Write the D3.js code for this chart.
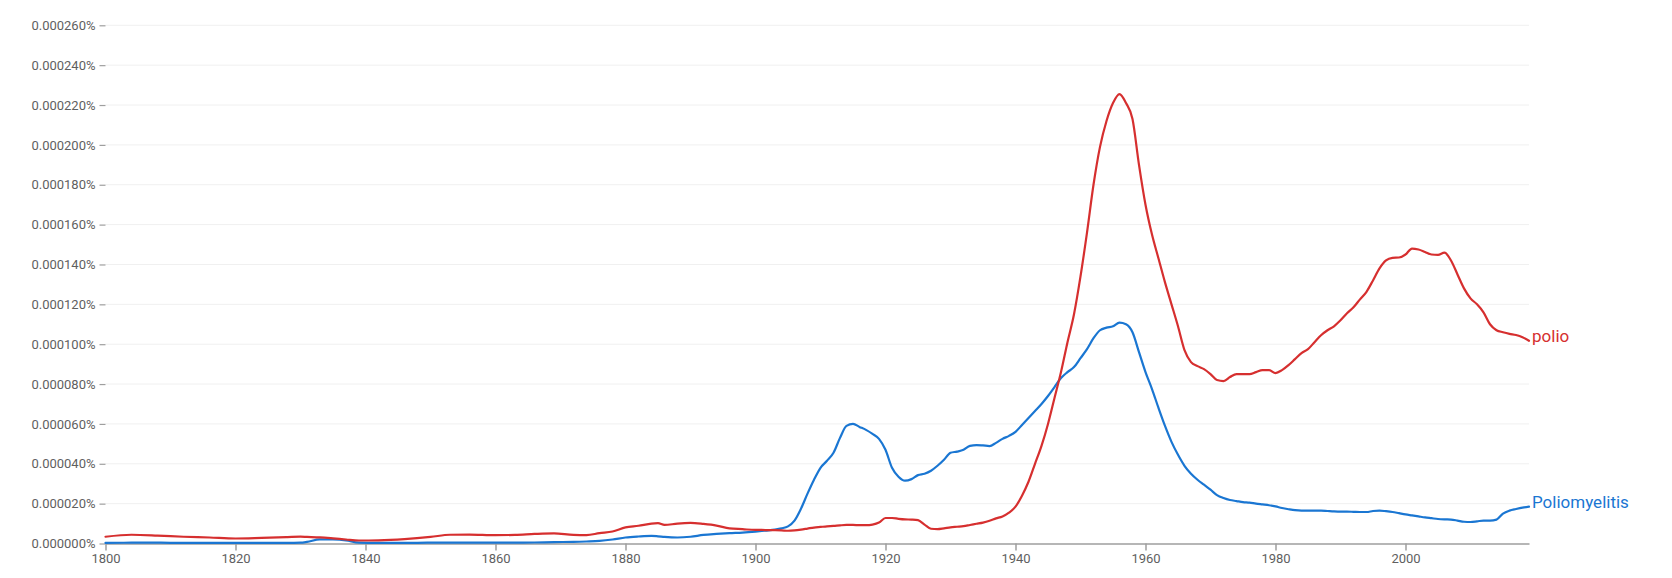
<!DOCTYPE html>
<html>
<head>
<meta charset="utf-8">
<script src="https://cdn.jsdelivr.net/npm/d3@7"></script>
<style>
  html, body { margin: 0; padding: 0; background: #fff; }
  svg { display: block; font-family: Roboto, "Noto Sans", sans-serif; }
</style>
</head>
<body>
<svg id="chart" width="1672" height="578"></svg>
<script>
// ---- data (values in units of 0.000001 %) ----
const yearsEarly = [1800, 1804, 1808, 1812, 1816, 1820, 1824, 1828, 1830, 1831, 1833, 1835, 1837, 1839, 1842, 1846, 1850, 1853, 1856, 1860, 1863, 1866, 1869, 1872, 1874, 1876, 1878, 1880, 1882, 1884, 1885, 1886, 1888, 1890, 1892, 1894, 1896, 1898];
const yearsLate = d3.range(1900, 2020);
const years = yearsEarly.concat(yearsLate);

const polioEarly = [3.4, 4.4, 4.0, 3.4, 3.0, 2.5, 2.8, 3.2, 3.4, 3.3, 3.1, 2.6, 2.0, 1.5, 1.6, 2.2, 3.3, 4.4, 4.5, 4.2, 4.3, 4.8, 5.1, 4.3, 4.2, 5.2, 6.0, 8.1, 8.9, 10.0, 10.2, 9.3, 10.0, 10.3, 9.8, 9.0, 7.6, 7.2];
const polioLate = [
  6.8, 6.8, 6.7, 6.7, 6.6, 6.4, 6.6, 7.0, 7.5, 8.0,          // 1900-1909
  8.3, 8.6, 8.8, 9.1, 9.3, 9.3, 9.2, 9.2, 9.5, 10.5,         // 1910-1919
  12.8, 12.8, 12.4, 12.1, 12.0, 11.7, 9.5, 7.4, 7.2, 7.6,    // 1920-1929
  8.1, 8.4, 8.7, 9.3, 9.9, 10.5, 11.4, 12.6, 13.6, 15.5,     // 1930-1939
  18.5, 24, 31, 40, 49, 60, 73, 86, 101, 115,                // 1940-1949
  134, 156, 180, 199, 212, 221, 225.5, 221, 213, 190,        // 1950-1959
  170, 155, 143, 131, 120, 109, 97, 91, 89, 87.5,            // 1960-1969
  85, 82, 81.5, 83.5, 85, 85, 85, 86, 87, 87,                // 1970-1979
  85.5, 87, 89.5, 92.5, 95.5, 97.5, 101, 104.5, 107, 109,    // 1980-1989
  112, 115.5, 118.5, 122.5, 126.3, 132, 138, 142, 143.3, 143.5, // 1990-1999
  145, 148, 147.5, 146.3, 145, 144.8, 145.9, 142, 135, 128,  // 2000-2009
  123, 120, 116, 110, 107, 106, 105.2, 104.6, 103.5, 101.7   // 2010-2019
];
const polioValues = polioEarly.concat(polioLate);

const poliomyelitisEarly = [0.3, 0.4, 0.4, 0.3, 0.3, 0.3, 0.3, 0.3, 0.4, 0.8, 2.1, 2.0, 1.5, 0.4, 0.3, 0.3, 0.4, 0.4, 0.4, 0.4, 0.4, 0.5, 0.7, 0.8, 1.0, 1.3, 2.0, 3.0, 3.5, 3.8, 3.6, 3.3, 3.0, 3.4, 4.3, 4.8, 5.2, 5.5];
const poliomyelitisLate = [
  6.0, 6.3, 6.6, 7.0, 7.6, 8.6, 11.5, 17.5, 25, 32,          // 1900-1909
  38, 41.5, 45.5, 53, 59, 60, 58.5, 57, 55, 52.5,            // 1910-1919
  47, 38, 33.5, 31.5, 32.3, 34.3, 35, 36.5, 39, 42,          // 1920-1929
  45.5, 46.1, 47, 49, 49.4, 49.2, 48.9, 50.5, 52.5, 54,      // 1930-1939
  56, 59.5, 63, 66.5, 70, 74, 78.5, 83, 86, 88.5,            // 1940-1949
  93, 97.5, 103, 107, 108.3, 109, 110.8, 110, 106, 96,       // 1950-1959
  86, 77.5, 68, 59, 51, 44.5, 39, 35, 32, 29.5,              // 1960-1969
  27, 24.3, 22.8, 21.8, 21.3, 20.8, 20.5, 20, 19.6, 19.2,    // 1970-1979
  18.6, 17.8, 17.2, 16.7, 16.5, 16.5, 16.5, 16.5, 16.3, 16.1, // 1980-1989
  16, 16, 15.9, 15.8, 15.8, 16.3, 16.5, 16.2, 15.8, 15.2,    // 1990-1999
  14.6, 14.1, 13.6, 13.1, 12.7, 12.3, 12.1, 12.0, 11.5, 10.9, // 2000-2009
  10.8, 11.1, 11.5, 11.5, 12.0, 15, 16.5, 17.3, 18.0, 18.5   // 2010-2019
];
const poliomyelitisValues = poliomyelitisEarly.concat(poliomyelitisLate);

const seriesNames = ["polio", "Poliomyelitis"];
const seriesColors = ["#d62f2f", "#1a76d2"];
const yTicks = [0, 20, 40, 60, 80, 100, 120, 140, 160, 180, 200, 220, 240, 260];
const xTicks = [1800, 1820, 1840, 1860, 1880, 1900, 1920, 1940, 1960, 1980, 2000];

// ---- layout ----
const svg = d3.select("#chart");
const mLeft = 105.5, mRight = 1529, mTop = 25.3, mBottom = 543.5;

const x = d3.scaleLinear().domain([1800, 2019]).range([mLeft, mRight]);
const y = d3.scaleLinear().domain([0, 260]).range([mBottom, mTop]);

const fmtY = v => (v / 1e6).toFixed(6) + "%";

// gridlines
svg.append("g")
  .selectAll("line")
  .data(yTicks.filter(t => t > 0))
  .join("line")
  .attr("x1", mLeft).attr("x2", mRight)
  .attr("y1", d => y(d)).attr("y2", d => y(d))
  .attr("stroke", "#f0f0f0").attr("stroke-width", 1);

// y axis
const yAxis = svg.append("g")
  .attr("transform", `translate(${mLeft},0)`)
  .call(d3.axisLeft(y).tickValues(yTicks).tickFormat(fmtY).tickSize(6).tickPadding(4));
yAxis.select(".domain").remove();
yAxis.selectAll(".tick line").attr("stroke", "#9e9e9e").attr("stroke-width", 1.2);
yAxis.selectAll(".tick text").attr("fill", "#5f5f5f").attr("font-size", 13).attr("font-family", "Roboto");

// x axis
const xAxis = svg.append("g")
  .attr("transform", `translate(0,${mBottom})`)
  .call(d3.axisBottom(x).tickValues(xTicks).tickFormat(d3.format("d")).tickSize(7).tickSizeOuter(0).tickPadding(3));
xAxis.select(".domain").attr("stroke", "#9e9e9e").attr("stroke-width", 1.5);
xAxis.selectAll(".tick line").attr("stroke", "#9e9e9e").attr("stroke-width", 1.5);
xAxis.selectAll(".tick text").attr("fill", "#5f5f5f").attr("font-size", 13).attr("font-family", "Roboto");

// lines
const allValues = [polioValues, poliomyelitisValues];
const line = d3.line()
  .x((d, i) => x(years[i]))
  .y(d => y(d))
  .curve(d3.curveMonotoneX);

[1, 0].forEach(k => {
  svg.append("path")
    .datum(allValues[k])
    .attr("fill", "none")
    .attr("stroke", seriesColors[k])
    .attr("stroke-width", 2.2)
    .attr("stroke-linejoin", "round")
    .attr("stroke-linecap", "round")
    .attr("d", line);
});

// end labels
allValues.forEach((vals, k) => {
  const last = vals[vals.length - 1];
  svg.append("text")
    .attr("x", x(years[years.length - 1]) + 3)
    .attr("y", y(last) - 3)
    .attr("dominant-baseline", "middle")
    .attr("fill", seriesColors[k])
    .attr("font-size", 17)
    .attr("font-family", "Roboto")
    .text(seriesNames[k]);
});
</script>
</body>
</html>
